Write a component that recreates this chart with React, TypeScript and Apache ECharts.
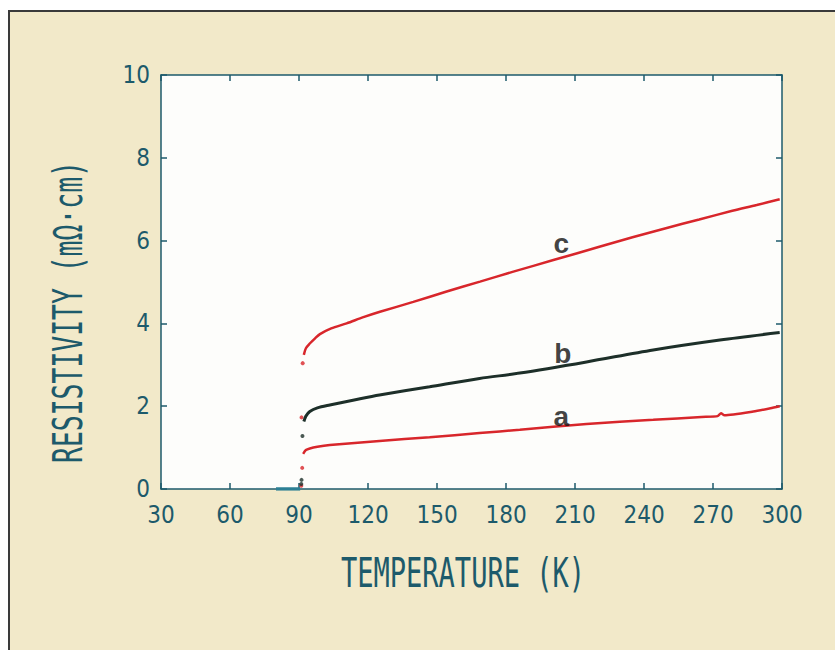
import React, { useEffect, useRef } from "react";
import * as echarts from "echarts";

// Tick values
const xTicks = [30, 60, 90, 120, 150, 180, 210, 240, 270, 300];
const yTicks = [0, 2, 4, 6, 8, 10];

// Curve c (red)
const tempC = [92.1, 93, 94.8, 97, 99.1, 104, 110.7, 118, 125.2, 139.7, 154.2, 168.7, 183.2, 200.6, 220.6, 235, 249.5, 264, 278.4, 289, 299];
const rhoC = [3.24, 3.40, 3.52, 3.64, 3.74, 3.88, 4.00, 4.15, 4.28, 4.52, 4.77, 5.01, 5.25, 5.53, 5.85, 6.08, 6.30, 6.51, 6.72, 6.86, 7.00];

// Curve b (black)
const tempB = [92.1, 93, 94.7, 98, 103.4, 114, 125, 146.8, 168.5, 186, 215, 244, 273, 299];
const rhoB = [1.63, 1.76, 1.87, 1.96, 2.03, 2.15, 2.27, 2.47, 2.67, 2.80, 3.07, 3.36, 3.60, 3.78];

// Curve a (red)
const tempA = [91.8, 93, 94.7, 98, 103.4, 125, 146.8, 168.5, 186, 215, 244, 265, 272, 273.5, 275, 287.5, 295, 299];
const rhoA = [0.85, 0.94, 0.98, 1.02, 1.06, 1.16, 1.25, 1.35, 1.43, 1.57, 1.67, 1.74, 1.76, 1.83, 1.78, 1.87, 1.95, 2.00];

// Transition points
const redDotsT = [91.6, 91.1, 91.4, 91.0];
const redDotsR = [3.04, 1.73, 0.51, 0.08];
const blackDotsT = [91.5, 91.1, 91.0];
const blackDotsR = [1.28, 0.22, 0.12];

// Superconducting (zero resistance) segment
const zeroT = [80, 90.5];
const zeroR = [0, 0];

// Curve labels
const labelNames = ["a", "b", "c"];
const labelT = [204, 204.7, 204];
const labelR = [1.75, 3.28, 5.93];

const RED = "#d8262b";
const BLACK = "#1d2f29";
const TEAL = "#1d5a6b";

const pairs = (xs: number[], ys: number[]) => xs.map((x, i) => [x, ys[i]]);

export default function App() {
  const ref = useRef<HTMLDivElement>(null);
  useEffect(() => {
    if (!ref.current) return;
    const chart = echarts.init(ref.current, undefined, { renderer: "svg" });
    const axisLine = { show: true, onZero: false, lineStyle: { color: TEAL, width: 1.5 } };
    const tick = { show: true, inside: true, length: 6, lineStyle: { color: TEAL, width: 1.5 } };
    const labelFont = {
      fontFamily: "'Liberation Sans Narrow', 'DejaVu Sans Condensed', sans-serif",
      fontSize: 24,
      color: TEAL,
    };
    chart.setOption({
      animation: false,
      backgroundColor: "transparent",
      grid: {
        left: 161,
        right: 53,
        top: 75,
        bottom: 161,
        show: true,
        backgroundColor: "#fdfdfb",
        borderWidth: 0,
      },
      xAxis: [
        {
          type: "value",
          min: xTicks[0],
          max: xTicks[xTicks.length - 1],
          interval: 30,
          position: "bottom",
          axisLine,
          axisTick: tick,
          splitLine: { show: false },
          axisLabel: { ...labelFont, margin: 14 },
        },
        {
          type: "value",
          min: xTicks[0],
          max: xTicks[xTicks.length - 1],
          interval: 30,
          position: "top",
          axisLine,
          axisTick: tick,
          splitLine: { show: false },
          axisLabel: { show: false },
        },
      ],
      yAxis: [
        {
          type: "value",
          min: yTicks[0],
          max: yTicks[yTicks.length - 1],
          interval: 2,
          position: "left",
          axisLine,
          axisTick: tick,
          splitLine: { show: false },
          axisLabel: { ...labelFont, margin: 11 },
        },
        {
          type: "value",
          min: yTicks[0],
          max: yTicks[yTicks.length - 1],
          interval: 2,
          position: "right",
          axisLine,
          axisTick: tick,
          splitLine: { show: false },
          axisLabel: { show: false },
        },
      ],
      series: [
        {
          type: "line",
          data: pairs(zeroT, zeroR),
          showSymbol: false,
          lineStyle: { color: "#2c7f94", width: 3.5 },
          z: 3,
        },
        {
          type: "line",
          data: pairs(tempC, rhoC),
          showSymbol: false,
          smooth: 0.3,
          lineStyle: { color: RED, width: 2.5 },
        },
        {
          type: "line",
          data: pairs(tempB, rhoB),
          showSymbol: false,
          smooth: 0.3,
          lineStyle: { color: BLACK, width: 3 },
        },
        {
          type: "line",
          data: pairs(tempA, rhoA),
          showSymbol: false,
          smooth: 0.2,
          lineStyle: { color: RED, width: 2.5 },
        },
        {
          type: "scatter",
          data: pairs(redDotsT, redDotsR),
          symbolSize: 4,
          itemStyle: { color: RED },
        },
        {
          type: "scatter",
          data: pairs(blackDotsT, blackDotsR),
          symbolSize: 4,
          itemStyle: { color: BLACK },
        },
        {
          type: "scatter",
          data: labelNames.map((n, i) => [labelT[i], labelR[i], n]),
          symbolSize: 1,
          itemStyle: { color: "transparent" },
          label: {
            show: true,
            position: "inside",
            formatter: (p: any) => p.data[2],
            fontFamily: "'Liberation Sans', Arial, sans-serif",
            fontWeight: "bold",
            fontSize: 28,
            color: "#111",
          },
          z: 5,
        },
      ],
      graphic: [
        {
          type: "text",
          x: 463,
          y: 573,
          scaleX: 0.66,
          style: {
            text: "TEMPERATURE (K)",
            font: "41px 'DejaVu Sans Mono', 'Liberation Mono', monospace",
            fill: TEAL,
            textAlign: "center",
            textVerticalAlign: "middle",
          },
        },
        {
          type: "text",
          x: 68,
          y: 312,
          rotation: Math.PI / 2,
          scaleX: 0.66,
          style: {
            text: "RESISTIVITY (mΩ·cm)",
            font: "40px 'DejaVu Sans Mono', 'Liberation Mono', monospace",
            fill: TEAL,
            textAlign: "center",
            textVerticalAlign: "middle",
          },
        },
      ],
    });
    return () => chart.dispose();
  }, []);

  return (
    <div style={{ position: "fixed", left: 0, top: 0, width: 835, height: 650, background: "#ffffff" }}>
      <div
        style={{
          position: "absolute",
          left: 8,
          top: 10,
          right: 0,
          bottom: 0,
          background: "#f2e9c9",
          borderLeft: "2px solid #3a3a3a",
          borderTop: "2px solid #3a3a3a",
        }}
      />
      <div ref={ref} style={{ position: "absolute", left: 0, top: 0, width: 835, height: 650 }} />
    </div>
  );
}
